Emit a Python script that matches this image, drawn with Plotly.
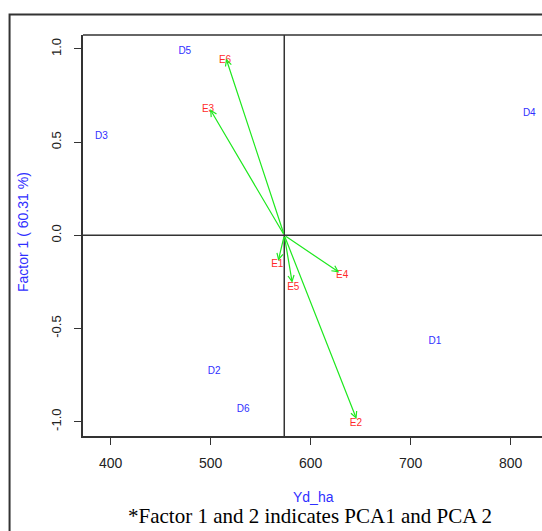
import plotly.graph_objects as go

# ---- data ----
d_labels = ["D1", "D2", "D3", "D4", "D5", "D6"]
d_x = [724.3, 503.4, 390.7, 818.7, 474.1, 532.4]
d_y = [-0.568, -0.732, 0.532, 0.654, 0.989, -0.934]

e_labels = ["E1", "E2", "E3", "E4", "E5", "E6"]
e_tip_x = [567.6, 645.9, 499.4, 628.6, 581.6, 515.4]
e_tip_y = [-0.137, -0.986, 0.677, -0.199, -0.255, 0.949]
e_lab_x = [566.6, 645.2, 497.4, 631.6, 582.6, 514.4]
e_lab_y = [-0.156, -1.009, 0.675, -0.215, -0.281, 0.939]

origin_x = 573.6
origin_y = 0.0

x_ticks = [400, 500, 600, 700, 800]
x_ticktext = ["400", "500", "600", "700", "800"]
y_ticks = [-1.0, -0.5, 0.0, 0.5, 1.0]
y_ticktext = ["-1.0", "-0.5", "0.0", "0.5", "1.0"]

x_title = "Yd_ha"
y_title = "Factor 1 ( 60.31 %)"
caption = "*Factor 1 and 2 indicates PCA1 and PCA 2"

BLUE = "#2f2fff"
RED = "#ff2a2a"
GREEN = "#1ee81e"
DARK = "#333333"
SANS = "Liberation Sans, Arial, sans-serif"

fig = go.Figure()

fig.add_trace(go.Scatter(
    x=d_x, y=d_y, mode="text", text=d_labels,
    textposition="middle center",
    textfont=dict(family=SANS, size=10, color=BLUE),
    hoverinfo="skip", showlegend=False))

fig.add_trace(go.Scatter(
    x=e_lab_x, y=e_lab_y, mode="text", text=e_labels,
    textposition="middle center",
    textfont=dict(family=SANS, size=10, color=RED),
    hoverinfo="skip", showlegend=False))

# crosshair lines through the origin
fig.add_shape(type="line", xref="x", yref="y domain", x0=origin_x, x1=origin_x,
              y0=0, y1=1, line=dict(color=DARK, width=1.5), layer="below")
fig.add_shape(type="line", xref="x domain", yref="y", x0=0, x1=1,
              y0=origin_y, y1=origin_y, line=dict(color=DARK, width=1.5), layer="below")

# top border of plot box
fig.add_shape(type="line", xref="paper", yref="paper", x0=0, x1=1.05, y0=1, y1=1,
              line=dict(color=DARK, width=1.5))

# outer frame (only left and top visible)
fig.add_shape(type="rect", xref="paper", yref="paper",
              x0=-0.160, x1=1.06, y0=-0.28, y1=1.0511,
              line=dict(color=DARK, width=2), fillcolor="rgba(0,0,0,0)")

annotations = []
for tx, ty in zip(e_tip_x, e_tip_y):
    annotations.append(dict(
        x=tx, y=ty, xref="x", yref="y",
        ax=origin_x, ay=origin_y, axref="x", ayref="y",
        text="", showarrow=True, arrowhead=5, arrowsize=1.0,
        arrowwidth=1.2, arrowcolor=GREEN, standoff=0, startstandoff=0))

annotations.append(dict(
    x=-0.1307, y=0.5087, xref="paper", yref="paper", text=y_title,
    textangle=-90, showarrow=False, xanchor="center", yanchor="middle",
    font=dict(family=SANS, size=14, color=BLUE)))
annotations.append(dict(
    x=0.503, y=-0.152, xref="paper", yref="paper", text=x_title,
    showarrow=False, xanchor="center", yanchor="middle",
    font=dict(family=SANS, size=14, color=BLUE)))
annotations.append(dict(
    x=0.4935, y=-0.1995, xref="paper", yref="paper", text=caption,
    showarrow=False, xanchor="center", yanchor="middle",
    font=dict(family="Liberation Serif, Times New Roman, serif", size=21, color="#000000")))

fig.update_layout(
    width=542, height=531,
    margin=dict(l=83, r=0, t=35, b=95),
    paper_bgcolor="white", plot_bgcolor="white",
    annotations=annotations,
    showlegend=False,
    xaxis=dict(
        range=[372.3, 831.4], tickvals=x_ticks, ticktext=x_ticktext,
        showgrid=False, zeroline=False, showline=True, linecolor=DARK, linewidth=1.5,
        ticks="outside", ticklen=7, tickwidth=1.2, tickcolor=DARK,
        tickfont=dict(family=SANS, size=14, color="#222222"),
        ticklabelstandoff=6),
    yaxis=dict(
        range=[-1.077, 1.075], tickvals=y_ticks, ticktext=y_ticktext,
        showgrid=False, zeroline=False, showline=True, linecolor=DARK, linewidth=1.5,
        ticks="outside", ticklen=7, tickwidth=1.2, tickcolor=DARK, tickangle=-90,
        tickfont=dict(family=SANS, size=13, color="#222222"),
        ticklabelstandoff=8),
)

fig.write_html("out.html")
